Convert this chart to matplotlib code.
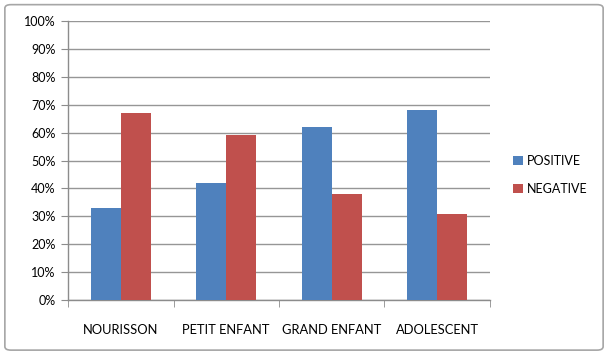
import numpy as np
import matplotlib.pyplot as plt
from matplotlib.patches import FancyBboxPatch
from matplotlib.ticker import PercentFormatter

categories = ['NOURISSON', 'PETIT ENFANT', 'GRAND ENFANT', 'ADOLESCENT']
positive = [33, 42, 62, 68]
negative = [67, 59, 38, 31]
series_names = ['POSITIVE', 'NEGATIVE']
colors = ['#4F81BD', '#C0504D']

plt.rcParams['font.family'] = ['Lato', 'DejaVu Sans']

fig = plt.figure(figsize=(6.08, 3.58), dpi=100)
fig.patch.set_facecolor('white')

# outer chart frame, kept behind the axes
frame = FancyBboxPatch((0.008, 0.022), 0.984, 0.965, boxstyle='round,pad=0,rounding_size=0.01',
                       transform=fig.transFigure, facecolor='white', edgecolor='#A6A6A6',
                       linewidth=1.2, zorder=-10)
fig.patches.append(frame)

ax = fig.add_axes([68 / 608, 1 - 300 / 358, (490 - 68) / 608, (300 - 21) / 358])
ax.set_zorder(5)
ax.set_facecolor('none')

x = np.arange(len(categories))
w = 1 / 3.5
ax.bar(x - w / 2, positive, w, color=colors[0], label=series_names[0], zorder=3)
ax.bar(x + w / 2, negative, w, color=colors[1], label=series_names[1], zorder=3)

ax.set_xlim(-0.5, len(categories) - 0.5)
ax.set_ylim(0, 100)
ax.set_yticks(np.arange(0, 101, 10))
ax.yaxis.set_major_formatter(PercentFormatter(decimals=0))
ax.yaxis.grid(True, color='#969696', linewidth=1.0, zorder=0)
ax.set_axisbelow(True)

ax.set_xticks(x)
ax.set_xticklabels(categories)
ax.set_xticks(np.arange(-0.5, len(categories)), minor=True)
ax.tick_params(axis='x', which='major', length=0, pad=17, labelsize=9.3)
ax.tick_params(axis='x', which='minor', length=5, color='#8C8C8C')
ax.tick_params(axis='y', length=5, color='#8C8C8C', labelsize=9, pad=4)

for s in ['top', 'right']:
    ax.spines[s].set_visible(False)
for s in ['left', 'bottom']:
    ax.spines[s].set_color('#8C8C8C')
    ax.spines[s].set_linewidth(1.0)

leg = fig.legend(loc='center left', bbox_to_anchor=(502 / 608, 1 - 175 / 358), frameon=False,
                 fontsize=9, handlelength=0.75, handleheight=0.75, handletextpad=0.3, labelspacing=1.3)
leg.set_zorder(6)

fig.savefig('out.png', dpi=100, facecolor='white')
